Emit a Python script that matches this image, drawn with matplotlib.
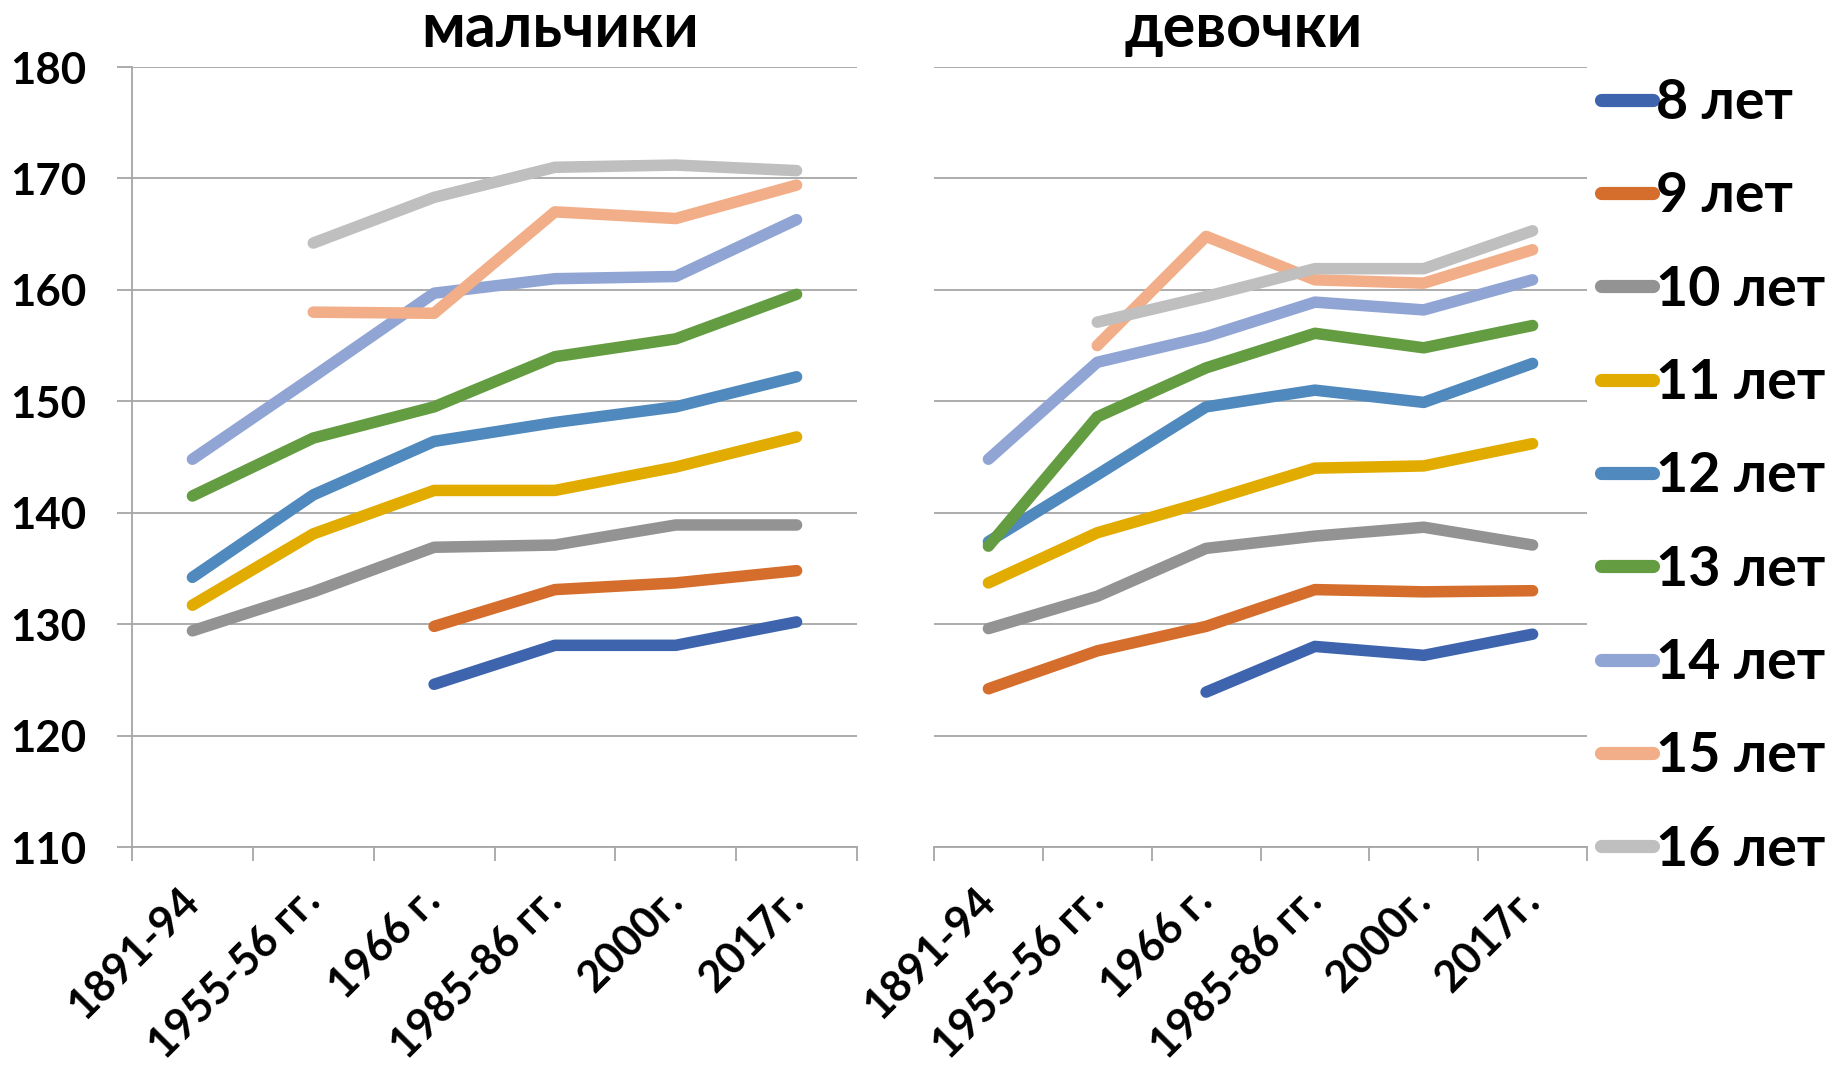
import numpy as np
import matplotlib
matplotlib.use('Agg')
import matplotlib.pyplot as plt
from matplotlib.lines import Line2D

plt.rcParams['font.family'] = ['Lato', 'DejaVu Sans']
plt.rcParams['font.weight'] = 'bold'

nan = np.nan

periods = ['1891-94', '1955-56 гг.', '1966 г.', '1985-86 гг.', '2000г.', '2017г.']
ages = ['8 лет', '9 лет', '10 лет', '11 лет', '12 лет', '13 лет', '14 лет', '15 лет', '16 лет']
colors = ['#3E64AE', '#D56E2C', '#939393', '#E2AB00', '#4F89BD',
          '#639C41', '#91A5D4', '#F2AE88', '#BFBFBF']

# мальчики
boys_8 = [nan, nan, 124.6, 128.1, 128.1, 130.2]
boys_9 = [nan, nan, 129.8, 133.1, 133.7, 134.8]
boys_10 = [129.4, 132.9, 136.9, 137.1, 138.9, 138.9]
boys_11 = [131.7, 138.1, 142.0, 142.0, 144.1, 146.8]
boys_12 = [134.2, 141.6, 146.4, 148.1, 149.5, 152.2]
boys_13 = [141.5, 146.7, 149.5, 154.0, 155.6, 159.6]
boys_14 = [144.8, 152.2, 159.7, 161.0, 161.2, 166.3]
boys_15 = [nan, 158.0, 157.9, 167.0, 166.4, 169.4]
boys_16 = [nan, 164.2, 168.3, 171.0, 171.2, 170.7]

# девочки
girls_8 = [nan, nan, 123.9, 128.0, 127.2, 129.1]
girls_9 = [124.2, 127.6, 129.8, 133.1, 132.9, 133.0]
girls_10 = [129.6, 132.5, 136.8, 137.9, 138.7, 137.1]
girls_11 = [133.7, 138.2, 141.0, 144.0, 144.2, 146.2]
girls_12 = [137.4, 143.4, 149.5, 151.0, 149.9, 153.4]
girls_13 = [137.0, 148.6, 153.0, 156.1, 154.8, 156.8]
girls_14 = [144.8, 153.5, 155.8, 158.9, 158.2, 160.9]
girls_15 = [nan, 155.0, 164.8, 160.9, 160.6, 163.6]
girls_16 = [nan, 157.1, 159.4, 161.9, 161.9, 165.3]

boys = [boys_8, boys_9, boys_10, boys_11, boys_12, boys_13, boys_14, boys_15, boys_16]
girls = [girls_8, girls_9, girls_10, girls_11, girls_12, girls_13, girls_14, girls_15, girls_16]

W, H = 1834, 1091
fig = plt.figure(figsize=(W / 100, H / 100), dpi=100)
ax1 = fig.add_axes([132 / W, 1 - 847 / H, 725 / W, 780 / H])
ax2 = fig.add_axes([934 / W, 1 - 847 / H, 653 / W, 780 / H])

grid_c = '#A6A6A6'
x = np.arange(len(periods))

for ax, data in ((ax1, boys), (ax2, girls)):
    for vals, c, lab in zip(data, colors, ages):
        ax.plot(x, vals, color=c, lw=8.3, solid_capstyle='round',
                solid_joinstyle='round', label=lab)
    ax.set_xlim(-0.5, len(periods) - 0.5)
    ax.set_ylim(110, 180)
    ax.set_yticks(np.arange(110, 181, 10))
    ax.yaxis.grid(True, color=grid_c, lw=1.3)
    ax.set_axisbelow(True)
    for s in ('top', 'right'):
        ax.spines[s].set_visible(False)
    ax.spines['bottom'].set_color(grid_c)
    ax.spines['bottom'].set_linewidth(1.3)
    ax.spines['left'].set_color(grid_c)
    ax.spines['left'].set_linewidth(1.3)
    ax.set_xticks(x)
    ax.set_xticks(np.arange(-0.5, len(periods)), minor=True)
    ax.set_xticklabels(periods, rotation=45, ha='right', va='center',
                       rotation_mode='anchor', fontsize=31, fontweight='bold')
    ax.tick_params(axis='x', which='major', length=0, pad=34)
    ax.tick_params(axis='x', which='minor', length=10, width=1.3, color=grid_c)

ax1.tick_params(axis='y', length=11, width=1.3, color=grid_c, pad=22, labelsize=31.5)
for t in ax1.get_yticklabels():
    t.set_fontweight('bold')
ax2.spines['left'].set_visible(False)
ax2.tick_params(axis='y', left=False, labelleft=False)

fig.text(560 / W, 1 - 47 / H, 'мальчики', ha='center', va='baseline',
         fontsize=44, fontweight='bold')
fig.text(1244 / W, 1 - 47 / H, 'девочки', ha='center', va='baseline',
         fontsize=44, fontweight='bold')

handles = [Line2D([], [], color=c, lw=9.5, solid_capstyle='round') for c in colors]
fig.legend(handles, ages, loc='upper left', bbox_to_anchor=(1601 / W, 1 - 78 / H),
           frameon=False, handlelength=0.94, handletextpad=0.05,
           labelspacing=0.78, borderaxespad=0, borderpad=0,
           prop={'weight': 'bold', 'size': 40})

fig.savefig('out.png', dpi=100)
